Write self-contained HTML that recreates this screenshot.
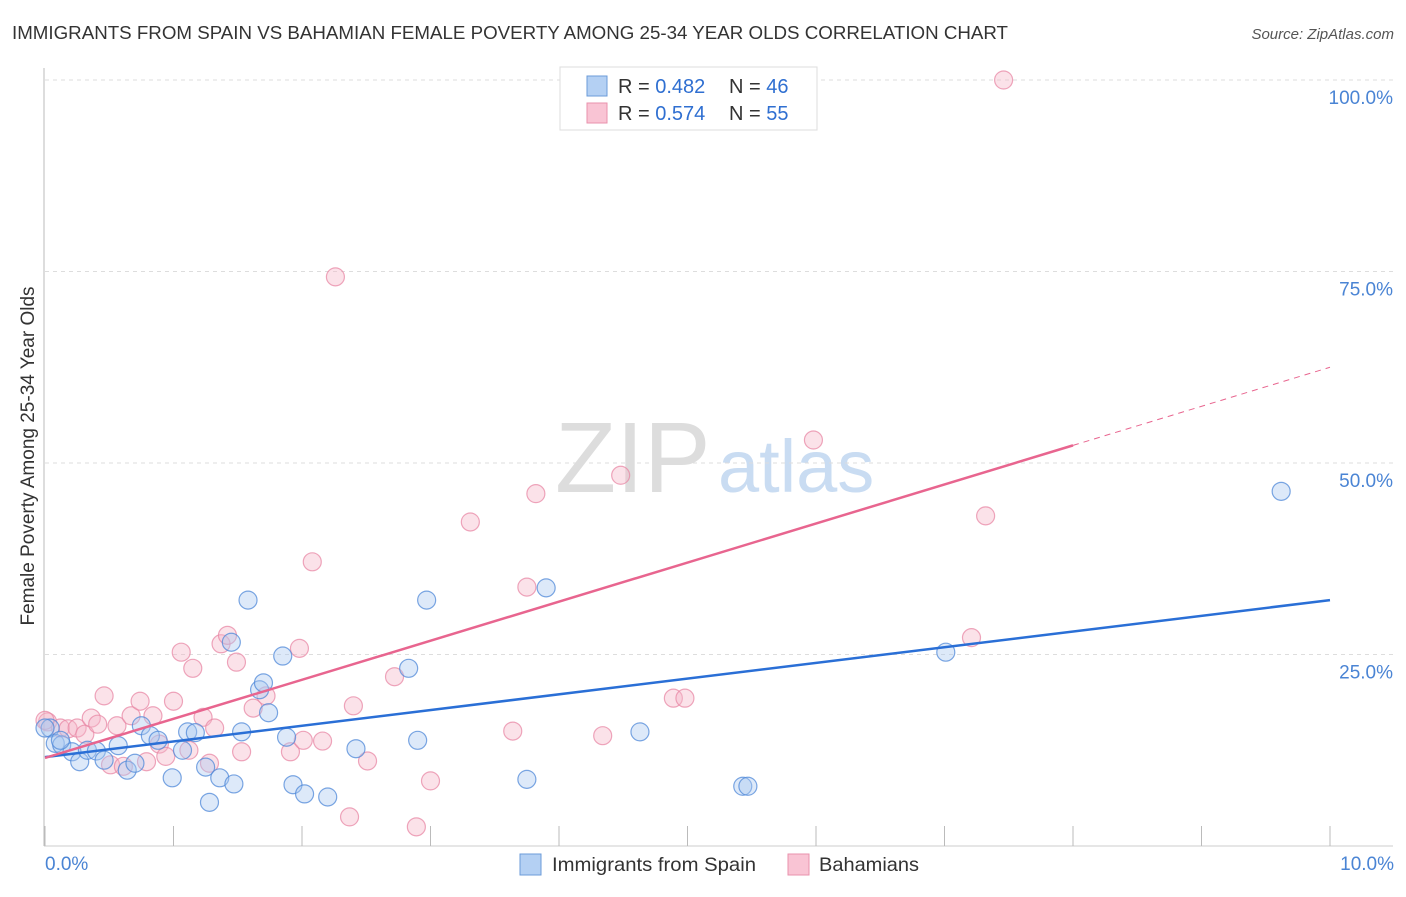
<!DOCTYPE html>
<html><head><meta charset="utf-8"><style>
body{margin:0;background:#fff;font-family:"Liberation Sans",sans-serif}
svg text{font-family:"Liberation Sans",sans-serif}
</style></head><body>
<svg id="c" width="1406" height="892" viewBox="0 0 1406 892">
<text x="12" y="39" font-size="18" fill="#333" textLength="996" lengthAdjust="spacingAndGlyphs">IMMIGRANTS FROM SPAIN VS BAHAMIAN FEMALE POVERTY AMONG 25-34 YEAR OLDS CORRELATION CHART</text>
<text x="1394" y="39" font-size="15" font-style="italic" fill="#555" text-anchor="end">Source: ZipAtlas.com</text>
<text x="555" y="492" font-size="100" font-family="Liberation Serif,serif" fill="#ddd">ZIP</text>
<text x="718" y="492" font-size="74" fill="#c9dcf2">atlas</text>
<text transform="translate(34,456) rotate(-90)" font-size="19" fill="#333" text-anchor="middle">Female Poverty Among 25-34 Year Olds</text>
<g id="grid"></g><g id="marks"></g>
<g>
<rect x="560" y="67" width="257" height="63" fill="#fff" stroke="#ddd"/>
<rect x="587" y="76" width="20" height="20" fill="#b4d0f3" stroke="#6b9bd8"/>
<rect x="587" y="103" width="20" height="20" fill="#f9c4d4" stroke="#e992ac"/>
<text x="618" y="93" font-size="20" fill="#333">R = <tspan fill="#2f6fd1">0.482</tspan></text>
<text x="729" y="93" font-size="20" fill="#333">N = <tspan fill="#2f6fd1">46</tspan></text>
<text x="618" y="120" font-size="20" fill="#333">R = <tspan fill="#2f6fd1">0.574</tspan></text>
<text x="729" y="120" font-size="20" fill="#333">N = <tspan fill="#2f6fd1">55</tspan></text>
</g>
<g>
<rect x="520" y="854" width="21" height="21" fill="#b4d0f3" stroke="#6b9bd8"/>
<text x="552" y="871" font-size="19.5" fill="#333" textLength="204" lengthAdjust="spacingAndGlyphs">Immigrants from Spain</text>
<rect x="788" y="854" width="21" height="21" fill="#f9c4d4" stroke="#e992ac"/>
<text x="819" y="871" font-size="19.5" fill="#333" textLength="100" lengthAdjust="spacingAndGlyphs">Bahamians</text>
</g>
</svg>
<script>
const blueX=[0.04,0.08,0.13,0.21,0.27,0.33,0.40,0.46,0.57,0.64,0.70,0.75,0.82,0.88,0.99,1.07,1.11,1.17,1.25,1.28,1.36,1.47,1.53,1.58,1.45,1.67,1.70,1.74,1.85,1.88,1.93,2.02,2.20,2.42,2.83,2.90,2.97,3.75,3.90,4.63,5.43,5.47,7.01,9.62,0.12,0.0];
const blueY=[15.4,13.4,13.2,12.3,11.0,12.5,12.4,11.2,13.1,9.9,10.8,15.7,14.4,13.8,8.9,12.5,14.9,14.8,10.3,5.7,8.9,8.1,14.9,32.1,26.6,20.4,21.3,17.4,24.8,14.2,8.0,6.8,6.4,12.7,23.2,13.8,32.1,8.7,33.7,14.9,7.8,7.8,25.3,46.3,13.8,15.4];
const pinkX=[0.02,0.12,0.18,0.25,0.31,0.36,0.41,0.46,0.51,0.56,0.61,0.67,0.74,0.79,0.84,0.89,0.94,1.00,1.06,1.12,1.15,1.23,1.28,1.32,1.37,1.42,1.49,1.53,1.62,1.72,1.91,1.98,2.01,2.08,2.16,2.26,2.37,2.40,2.51,2.72,2.89,3.00,3.31,3.64,3.75,3.82,4.34,4.48,4.89,4.98,5.98,7.21,7.32,7.46,0.0];
const pinkY=[16.2,15.4,15.3,15.4,14.6,16.7,15.9,19.6,10.6,15.7,10.4,17.0,18.9,11.0,17.0,13.3,11.7,18.9,25.3,12.5,23.2,16.8,10.8,15.4,26.4,27.5,24.0,12.3,18.0,19.6,12.3,25.8,13.8,37.1,13.7,74.3,3.8,18.3,11.1,22.1,2.5,8.5,42.3,15.0,33.8,46.0,14.4,48.4,19.3,19.3,53.0,27.2,43.1,100,16.4];
const blueFit=[11.6,2.05];
const pinkFit=[11.5,5.1];
const yTicks=[25,50,75,100];
const yTickLabels=["25.0%","50.0%","75.0%","100.0%"];
const xTicks=[0,1,2,3,4,5,6,7,8,9,10];
const NS="http://www.w3.org/2000/svg";
const X=v=>45+v*128.5, Y=v=>846-v*7.66;
function mk(tag,at,parent){const e=document.createElementNS(NS,tag);for(const k in at)e.setAttribute(k,at[k]);parent.appendChild(e);return e;}
const grid=document.getElementById('grid'),marks=document.getElementById('marks');
yTicks.forEach((t,i)=>{
 const l=mk('line',{x1:45,x2:1393,y1:Y(t),y2:Y(t),stroke:'#ddd','stroke-dasharray':'4 4'},grid);
 
 
 const tx=mk('text',{x:1393,y:Y(t)+24,'font-size':19,fill:'#4a84d4','text-anchor':'end'},grid);tx.textContent=yTickLabels[i];
 
 
});
const ax=mk('line',{x1:44,x2:44,y1:68,y2:846,stroke:'#bbb'},grid);


const bx=mk('line',{x1:44,x2:1393,y1:846,y2:846,stroke:'#ccc'},grid);


xTicks.forEach(t=>{const l=mk('line',{x1:X(t),x2:X(t),y1:826,y2:846,stroke:'#bbb'},grid);
 
 });
[[0,"0.0%",45,'start'],[10,"10.0%",1394,'end']].forEach(a=>{const t=mk('text',{x:a[2],y:870,'font-size':19,fill:'#4a84d4','text-anchor':a[3]},grid);t.textContent=a[1];
 
 });
function dots(xs,ys,fill,stroke,name){xs.forEach((x,i)=>{const c=mk('circle',{cx:X(x),cy:Y(ys[i]),r:9,fill:fill,'fill-opacity':0.4,stroke:stroke,'stroke-opacity':0.75,'stroke-width':1.2},marks);
 
 });}
dots(pinkX,pinkY,'#f6b6c9','#e888a6','bahamians-point');
dots(blueX,blueY,'#a9c9f0','#4f88d8','spain-point');
const bl=mk('line',{x1:X(0),y1:Y(blueFit[0]),x2:X(10),y2:Y(blueFit[0]+10*blueFit[1]),stroke:'#2a6fd6','stroke-width':2.5},marks);


const pl=mk('line',{x1:X(0),y1:Y(pinkFit[0]),x2:X(8),y2:Y(pinkFit[0]+8*pinkFit[1]),stroke:'#e8658f','stroke-width':2.5},marks);


const pd=mk('line',{x1:X(8),y1:Y(pinkFit[0]+8*pinkFit[1]),x2:X(10),y2:Y(pinkFit[0]+10*pinkFit[1]),stroke:'#e8658f','stroke-width':1,'stroke-dasharray':'6 5'},marks);


</script>
</body></html>
